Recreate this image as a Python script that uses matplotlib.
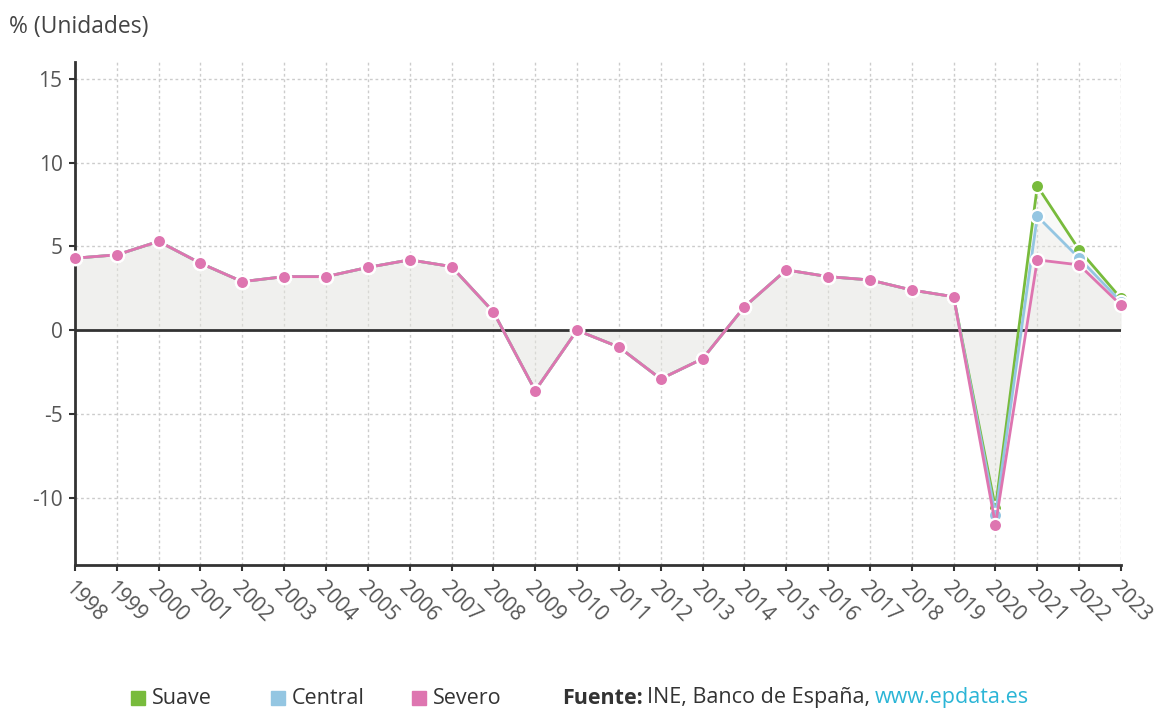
import matplotlib
matplotlib.use("Agg")
import matplotlib.pyplot as plt
from matplotlib.patches import Rectangle
import numpy as np

years = list(range(1998, 2024))
common = [4.3, 4.5, 5.3, 4.0, 2.9, 3.2, 3.2, 3.75, 4.2, 3.8, 1.1, -3.6, 0.0,
          -1.0, -2.9, -1.7, 1.4, 3.6, 3.2, 3.0, 2.4, 2.0]
suave = common + [-10.6, 8.6, 4.8, 1.9]
central = common + [-11.0, 6.8, 4.3, 1.7]
severo = common + [-11.6, 4.2, 3.9, 1.5]

series_names = ["Suave", "Central", "Severo"]
colors = ["#78bb3c", "#94c6e2", "#de75b0"]

plt.rcParams['font.family'] = ['Open Sans', 'DejaVu Sans']

fig = plt.figure(figsize=(11.62, 7.11), dpi=100)
ax = fig.add_axes([0.0645, 0.2053, 0.9002, 0.7075])

x = np.array(years)
for vals in [suave, central, severo]:
    ax.fill_between(x, vals, 0, color="#e6e6e0", alpha=0.22, lw=0, zorder=1)

for vals, c in zip([suave, central, severo], colors):
    ax.plot(x, vals, color=c, lw=2.0, marker="o", markersize=9.5,
            markerfacecolor=c, markeredgecolor="white", markeredgewidth=1.6,
            zorder=3, clip_on=False)

ax.axhline(0, color="#333333", lw=2, zorder=2)

ax.set_xlim(1998, 2023)
ax.set_ylim(-14, 16)
ax.set_xticks(years)
ax.set_xticklabels([str(y) for y in years], rotation=-45, ha="left", va="top",
                   rotation_mode="anchor", fontsize=15, color="#555555")
ax.set_yticks([-10, -5, 0, 5, 10, 15])
ax.set_yticklabels(["-10", "-5", "0", "5", "10", "15"], fontsize=15, color="#555555")
ax.grid(True, color="#cccccc", linestyle=(0, (2, 2)), lw=1, zorder=0)
ax.set_axisbelow(True)
for s in ["top", "right"]:
    ax.spines[s].set_visible(False)
ax.spines["left"].set_color("#333333")
ax.spines["left"].set_linewidth(2)
ax.spines["bottom"].set_color("#333333")
ax.spines["bottom"].set_linewidth(2)
ax.tick_params(axis="both", length=4, width=1.5, color="#333333", pad=5)

fig.text(0.008, 1 - 27 / 711, "% (Unidades)", fontsize=16.5, color="#444444", ha="left", va="center")

# legend
ly = 1 - 698 / 711
xs = [131, 271, 412]
for xp, name, c in zip(xs, series_names, colors):
    fig.patches.append(Rectangle((xp / 1162, ly - 7 / 711), 14 / 1162, 14 / 711,
                                 transform=fig.transFigure, color=c))
    fig.text((xp + 21) / 1162, ly, name, fontsize=15.5, color="#333333", va="center", ha="left")

t1 = fig.text(562 / 1162, ly, "Fuente:", fontsize=15.5, weight="bold", color="#333333", va="center", ha="left")
fig.canvas.draw()
bb = t1.get_window_extent()
t2 = fig.text(bb.x1 / 1162 + 0.004, ly, "INE, Banco de España,", fontsize=15.5, color="#333333", va="center", ha="left")
fig.canvas.draw()
bb2 = t2.get_window_extent()
fig.text(bb2.x1 / 1162 + 0.004, ly, "www.epdata.es", fontsize=15.5, color="#2bb5d6", va="center", ha="left")

fig.savefig("out.png", dpi=100)
